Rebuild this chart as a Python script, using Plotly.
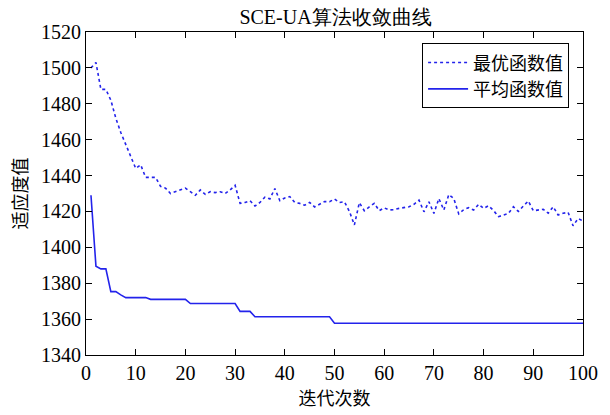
import plotly.graph_objects as go

iterations = list(range(1, 101))
best_values = [
    1500, 1503, 1488, 1488, 1482, 1472, 1464, 1457, 1450, 1444,
    1446, 1439, 1439, 1439, 1434, 1433, 1430, 1431, 1432, 1433,
    1431, 1429, 1432, 1429.5, 1431, 1430.5, 1431, 1430, 1432, 1434.6,
    1424.5, 1425, 1426, 1423, 1425, 1428, 1427, 1432.8, 1426, 1427.5,
    1428.3, 1425, 1424.5, 1423.5, 1425, 1422.5, 1424, 1425.5, 1425.4, 1426.9,
    1425, 1425.4, 1420, 1412.5, 1424.9, 1420.4, 1422.5, 1424.5, 1420.4, 1422,
    1420.8, 1421, 1421.7, 1422, 1422.6, 1424, 1426.3, 1419.8, 1425.4, 1418.9,
    1427.2, 1420.8, 1429.4, 1427.2, 1418.6, 1421, 1422.1, 1420.8, 1424, 1421.7,
    1423.2, 1420.5, 1417.1, 1418, 1418.9, 1422.6, 1420, 1423, 1425.8, 1420.4,
    1421, 1421.2, 1419, 1422.6, 1418, 1419, 1419.5, 1412, 1416, 1414.7,
]
mean_values = (
    [1429, 1389.5, 1388, 1388, 1375.3, 1375.3, 1373.5, 1372, 1372, 1372, 1372, 1372]
    + [1371] * 8
    + [1368.7] * 10
    + [1364.3] * 3
    + [1361.3] * 16
    + [1357.7] * 51
)

x_ticks = list(range(0, 101, 10))
y_ticks = list(range(1340, 1521, 20))

blue = "rgb(35,35,235)"
serif = "Liberation Serif"
cjk = "Noto Sans CJK SC"

fig = go.Figure()
fig.add_trace(go.Scatter(x=iterations, y=best_values, mode="lines", name="最优函数值",
                         line=dict(color=blue, width=1.6, dash="dot")))
fig.add_trace(go.Scatter(x=iterations, y=mean_values, mode="lines", name="平均函数值",
                         line=dict(color=blue, width=1.6)))

axis_common = dict(showline=True, linecolor="black", linewidth=1.2, mirror="ticks",
                   ticks="inside", ticklen=6, tickwidth=1, tickcolor="black",
                   showgrid=False, zeroline=False,
                   tickfont=dict(family=serif, size=20, color="black"))

fig.update_xaxes(range=[0, 100], tickvals=x_ticks, ticktext=[str(v) for v in x_ticks],
                 title=dict(text="迭代次数", font=dict(family=cjk, size=18, color="black"), standoff=6),
                 **axis_common)
fig.update_yaxes(range=[1340, 1520], tickvals=y_ticks, ticktext=[str(v) for v in y_ticks],
                 title=dict(text="适应度值", font=dict(family=cjk, size=18, color="black"), standoff=8),
                 **axis_common)

fig.update_layout(
    width=610, height=415,
    margin=dict(l=86, r=24, t=32, b=57),
    paper_bgcolor="white", plot_bgcolor="white",
    font=dict(family=serif, color="black"),
    title=dict(text="SCE-UA算法收敛曲线", x=0.55, xanchor="center", y=0.975, yanchor="top",
               font=dict(family=serif, size=20, color="black")),
    legend=dict(x=0.972, y=0.965, xanchor="right", yanchor="top",
                bordercolor="black", borderwidth=1, bgcolor="white",
                font=dict(family=cjk, size=18, color="black"),
                tracegroupgap=0, itemwidth=40),
    showlegend=True,
)

fig.write_html("out.html")
